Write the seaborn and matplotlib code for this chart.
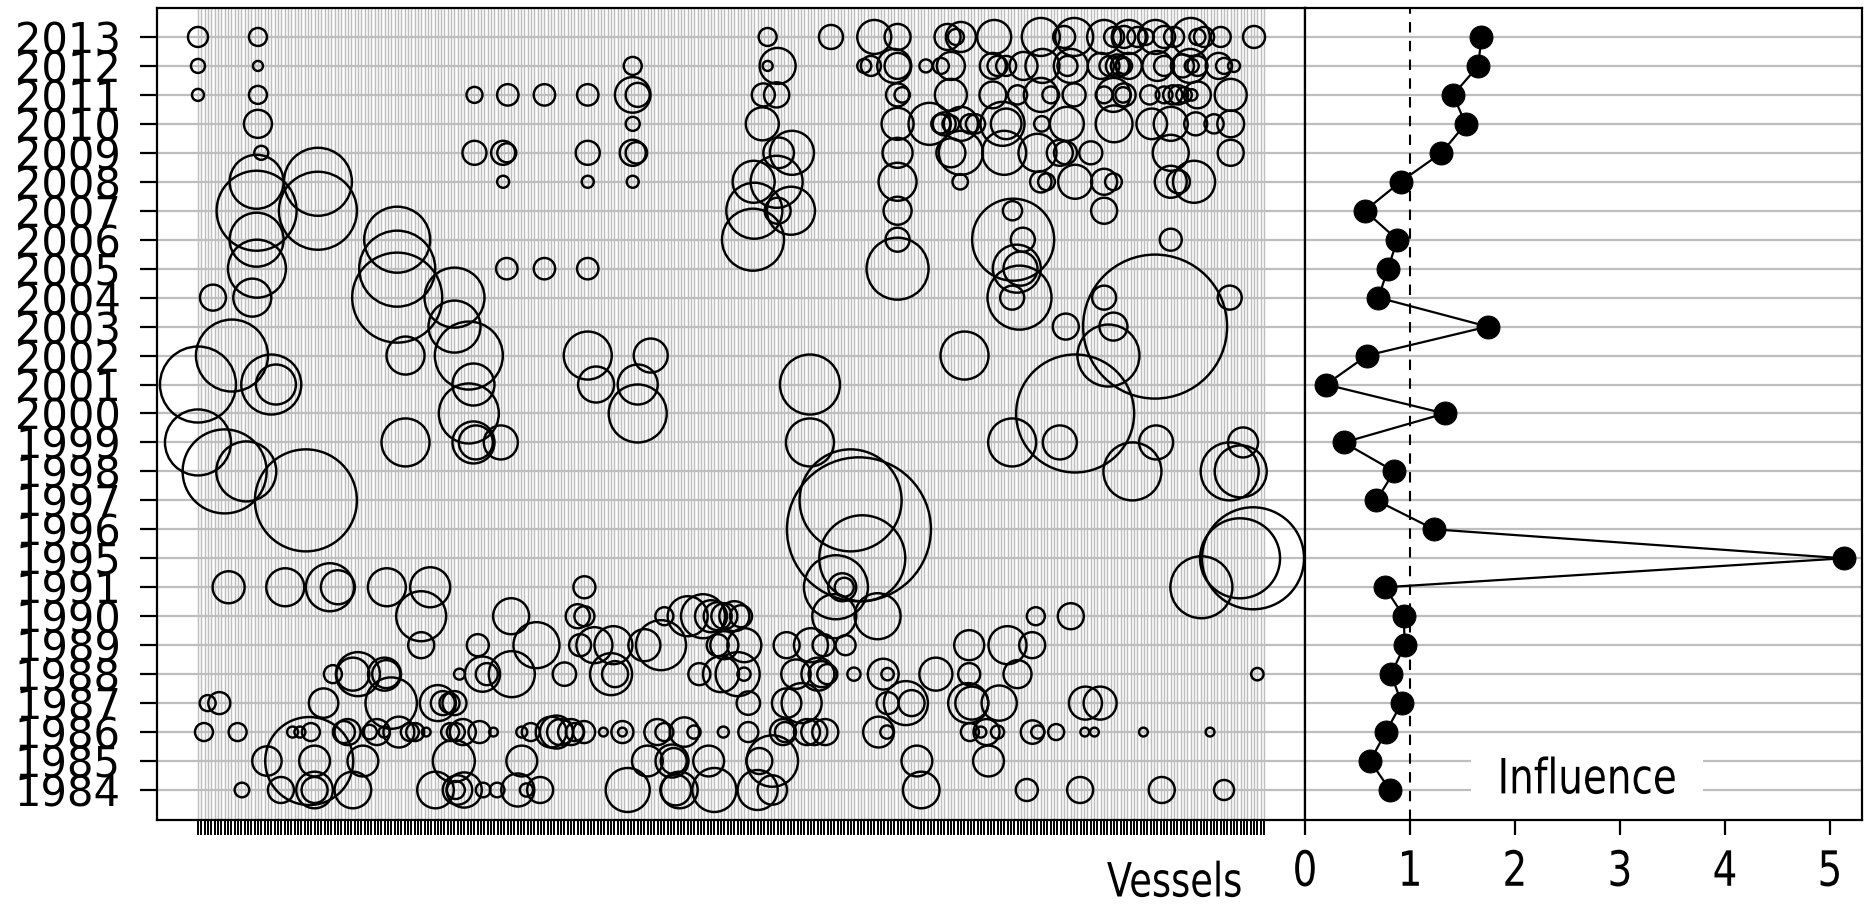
import matplotlib
matplotlib.use("Agg")
import matplotlib.pyplot as plt
import numpy as np
import pandas as pd
import seaborn as sns
from matplotlib.patheffects import AbstractPathEffect
from matplotlib.transforms import Affine2D

# ---------------- data ----------------
years = [1984, 1985, 1986, 1987, 1988, 1989, 1990, 1991,
         1995, 1996, 1997, 1998, 1999, 2000, 2001, 2002, 2003,
         2004, 2005, 2006, 2007, 2008, 2009, 2010, 2011, 2012, 2013]
influence = [0.81, 0.62, 0.77, 0.92, 0.82, 0.95, 0.94, 0.76,
             5.13, 1.23, 0.68, 0.85, 0.37, 1.33, 0.20, 0.59, 1.74,
             0.70, 0.79, 0.88, 0.57, 0.91, 1.30, 1.53, 1.41, 1.65, 1.68]
influence_ticks = [0, 1, 2, 3, 4, 5]
n_vessels = 321

# bubbles: vessel number and coefficient magnitude (bubble radius units) per year
vessel_2013 = [1, 19, 172, 191, 204, 211, 226, 228.5, 230, 240, 254, 261, 264, 273, 276, 279, 280.4,
               283, 285.5, 288.4, 291, 294, 299, 301, 303, 308, 318]
coef_2013 = [10, 9, 9, 12, 17, 13, 13, 8, 15, 17, 19, 11, 19, 17, 10, 11, 17,
             10, 8, 17, 11, 10, 19, 8, 10, 10, 11]
vessel_2012 = [1, 19, 131.5, 172, 175, 201, 203, 210, 211, 219.5, 224, 227, 239.6, 241, 243.6, 248.8,
               254.5, 262, 263, 272, 274.6, 277, 278, 279, 280.4, 289, 291, 296.5, 298.8, 299.3, 301,
               307.4, 309, 312]
coef_2012 = [7, 5, 9, 5, 18, 7, 10, 17, 13, 6.5, 8, 14, 13, 10, 10, 14,
             17, 10, 17, 13, 10, 11.5, 10, 8, 13, 15, 10, 11.5, 17, 7, 10,
             13, 8, 6]
vessel_2011 = [1, 19, 84, 94, 105, 118, 131.5, 133, 170.7, 174.7, 211, 212.4, 227, 239.6, 247, 254,
               257, 264, 273, 275.8, 278.7, 279, 286.7, 291, 293.6, 295.3, 297, 299.3, 301, 311]
coef_2011 = [6, 9, 8, 10.7, 10.7, 10.7, 17.8, 12, 11.5, 12.6, 11.5, 7.7, 16, 13.4, 9.6, 17,
             8.4, 11.5, 8.4, 17, 7.7, 11.5, 9.6, 8.4, 9.6, 9.6, 7.7, 5.7, 13.4, 16]
vessel_2010 = [19, 131.5, 170.4, 211, 220.6, 224, 225, 227, 230, 232.7, 234.4, 242.5, 243.6, 254.3,
               261.8, 276, 287.3, 293, 300.5, 306, 311]
coef_2010 = [14, 7, 16.5, 16, 21, 9.6, 11.5, 8.4, 17, 9.6, 9.6, 22, 15.3, 7.7,
             17, 18.4, 15.3, 17, 11.5, 9.6, 13.4]
vessel_2009 = [20, 84, 92.6, 93.7, 118, 131.5, 132.6, 175.3, 179.3, 211, 227, 230, 243, 253, 259.7,
               261.4, 269, 293, 311]
coef_2009 = [7, 12, 12, 9.5, 12, 13, 10.7, 15.3, 22, 15, 14.5, 22, 22, 19, 13,
             11.5, 11.5, 18, 13]
vessel_2008 = [18.6, 37, 92.6, 118, 131.5, 167.8, 174.7, 211, 229.8, 254, 255.7, 264.3, 273, 275.8,
               293, 295.3, 300]
coef_2008 = [27, 34, 6, 6, 6, 21, 26, 19, 7.7, 10.7, 8.4, 17, 13, 8.4,
             16, 11.5, 21]
vessel_2007 = [18.6, 37, 168, 175, 179, 211, 245.5, 273]
coef_2007 = [40, 39, 28, 13, 24, 14, 9.6, 13]
vessel_2006 = [18.6, 60.8, 167.6, 211, 245.7, 248.6, 293]
coef_2006 = [27, 33, 31, 12, 41, 12, 11]
vessel_2005 = [18.7, 60.8, 93.7, 105, 118, 211, 246.8, 247.9]
coef_2005 = [29, 38, 10.7, 10.7, 10.7, 31, 24, 17]
vessel_2004 = [5.5, 17.3, 60.8, 78, 245.4, 247.6, 273, 310.7]
coef_2004 = [13, 19, 45, 30, 12, 32, 12, 12]
vessel_2003 = [78, 261.5, 275.8, 288.3]
coef_2003 = [26, 13, 14, 72]
vessel_2002 = [11.2, 63.3, 82.3, 118, 136.9, 231.1, 274.3]
coef_2002 = [36, 19, 34, 24, 17, 24, 31]
vessel_2001 = [1, 23, 24.4, 83.7, 120.5, 133, 184.7]
coef_2001 = [38, 30, 20, 21, 18, 20, 30]
vessel_2000 = [82.3, 133, 264.3]
coef_2000 = [30, 29, 59]
vessel_1999 = [1, 63.3, 83.7, 84.4, 91.9, 184.7, 245.4, 259.7, 288.6, 314.7]
coef_1999 = [33, 24, 21, 17, 17, 24, 24, 17, 17, 15]
vessel_1998 = [9, 15.5, 281.5, 310.7, 314]
coef_1998 = [42, 30, 29, 29, 26]
vessel_1997 = [33.4, 196.9]
coef_1997 = [51, 51]
vessel_1996 = [199.4]
coef_1996 = [72]
vessel_1995 = [200.4, 313.8, 317.7]
coef_1995 = [43, 40, 51]
vessel_1991 = [10.2, 27.2, 40.6, 43, 57.7, 70.7, 117, 192.5, 194.4, 195, 302.2]
coef_1991 = [16, 19, 24, 17, 19, 20, 11, 32, 14, 9.5, 31]
vessel_1990 = [68, 95, 115, 117, 141, 148, 152.6, 155, 157, 159, 162, 164, 192, 205, 252.5, 263]
coef_1990 = [25, 18, 12, 10, 9, 20, 22, 16, 14, 13, 15, 11, 22, 23, 9, 13]
vessel_1989 = [68, 85, 102.6, 115.7, 120, 125.7, 135, 140, 157, 159, 165, 177.7, 185, 188.8, 195.4,
               232.5, 244, 251.4]
coef_1989 = [13, 11, 23, 11, 18, 19, 16, 25, 11, 14, 17, 13, 17, 11, 10,
             15, 19, 13]
vessel_1988 = [41.5, 47.5, 49, 57, 57.5, 79.5, 86.4, 87.7, 95.2, 111, 125, 126.2, 151.5, 158, 163,
               164.9, 180.5, 187.1, 188.2, 189.9, 197.9, 206.7, 208, 222.5, 232.5, 247, 319]
coef_1988 = [9, 16.5, 22, 16.5, 14, 5.5, 17.6, 11, 23, 11.7, 21, 13, 11, 18, 22,
             6.6, 14.7, 16.5, 13, 10, 6.6, 15.4, 6.2, 16.5, 11, 14, 6.2]
vessel_1987 = [3.9, 7.4, 38.7, 59, 73, 74.5, 76.5, 78, 166.2, 177.7, 182.2, 208, 213.5, 215.2,
               232.2, 233.3, 241.5, 267.4, 271.8]
coef_1987 = [8, 11, 14.7, 25.7, 18, 12, 10, 12, 11.7, 14.7, 20, 11, 22, 13,
             20, 16.5, 17.6, 16.5, 16.5]
vessel_1986 = [2.8, 12.9, 29.4, 31.6, 34.9, 44.8, 45.9, 52.5, 54.7, 56.9, 61.3, 64.6, 66.2, 69.5,
               76.7, 78.4, 80.5, 85.5, 89.7, 98.2, 100.9, 107, 108.6, 109.7, 113, 114.1, 116.9,
               122.7, 128.4, 128.4, 138.9, 141, 147, 149.9, 158.7, 166.2, 176.6, 177.2, 183.8,
               186, 189.3, 205.3, 207.8, 232.7, 236, 237.7, 241, 251.5, 253.1, 258.6, 267.2,
               270.1, 284.8, 304.8]
coef_1986 = [9, 9, 5.5, 5.5, 9, 11, 13, 7.3, 13, 5.5, 15.4, 9, 9, 4.4,
             9, 9, 13, 11, 4.4, 5.5, 9, 15.4, 16.5, 13, 13, 9, 11,
             4.4, 11, 4.4, 13, 9, 14.7, 6.6, 5.5, 10, 13, 10, 13,
             13, 13, 15.4, 6.6, 9, 5.5, 13, 6.6, 11.7, 6.6, 8, 4.4,
             4.4, 4.4, 4.4]
vessel_1985 = [21.7, 34.4, 36, 50.5, 77.8, 98.2, 135.9, 143.3, 143.8, 154.3, 169.5, 173.4, 216.8, 238.3]
coef_1985 = [14.7, 44, 15.4, 15.4, 21, 15.4, 15.4, 16.5, 13, 15.4, 13, 25.7, 15.4, 15.4]
vessel_1984 = [14.2, 25.9, 36, 36, 47.5, 72.3, 78.4, 78.9, 80.9, 86.6, 90.8, 97, 99.6, 103.7, 130,
               144.4, 145.5, 156, 169, 173.4, 218.1, 249.8, 265.8, 290.3, 309]
coef_1984 = [7.3, 13, 18.3, 13, 18.3, 18.3, 9, 14.7, 17.6, 7.3, 7.3, 16.5, 6.6, 13, 22,
             15.4, 18.3, 22, 20, 14.7, 18.3, 11, 13, 13, 10]

bubble_table = [
    (1984, vessel_1984, coef_1984), (1985, vessel_1985, coef_1985), (1986, vessel_1986, coef_1986),
    (1987, vessel_1987, coef_1987), (1988, vessel_1988, coef_1988), (1989, vessel_1989, coef_1989),
    (1990, vessel_1990, coef_1990), (1991, vessel_1991, coef_1991), (1995, vessel_1995, coef_1995),
    (1996, vessel_1996, coef_1996), (1997, vessel_1997, coef_1997), (1998, vessel_1998, coef_1998),
    (1999, vessel_1999, coef_1999), (2000, vessel_2000, coef_2000), (2001, vessel_2001, coef_2001),
    (2002, vessel_2002, coef_2002), (2003, vessel_2003, coef_2003), (2004, vessel_2004, coef_2004),
    (2005, vessel_2005, coef_2005), (2006, vessel_2006, coef_2006), (2007, vessel_2007, coef_2007),
    (2008, vessel_2008, coef_2008), (2009, vessel_2009, coef_2009), (2010, vessel_2010, coef_2010),
    (2011, vessel_2011, coef_2011), (2012, vessel_2012, coef_2012), (2013, vessel_2013, coef_2013),
]


# ---------------- helpers ----------------
class Condense(AbstractPathEffect):
    """Draw text horizontally condensed around its centre."""
    def __init__(self, sx=0.8):
        super().__init__()
        self.sx = sx

    def draw_path(self, renderer, gc, tpath, affine, rgbFace=None):
        ext = tpath.get_extents()
        cx = 0.5 * (ext.x0 + ext.x1)
        tr = Affine2D().translate(-cx, 0).scale(self.sx, 1.0).translate(cx, 0) + affine
        renderer.draw_path(gc, tpath, tr, rgbFace)


year_pos = {y: i for i, y in enumerate(years)}
rows = []
for yr, vs, cs in bubble_table:
    for v, c in zip(vs, cs):
        rows.append({"year": yr, "ypos": year_pos[yr], "vessel": v, "coef": c})
bubbles = pd.DataFrame(rows)
# marker area (points^2): diameter proportional to coefficient
bubbles["area"] = (2 * bubbles["coef"] * 0.72) ** 2
infl = pd.DataFrame({"year": years, "ypos": [year_pos[y] for y in years], "influence": influence})

# ---------------- figure ----------------
sns.set_theme(style="ticks")
plt.rcParams["font.family"] = ["DejaVu Sans"]
W, H = 1865, 907
fig = plt.figure(figsize=(W / 100, H / 100), dpi=100, facecolor="white")
axL = fig.add_axes([157 / W, 87 / H, 1148 / W, 812 / H])
axR = fig.add_axes([1305 / W, 87 / H, 557 / W, 812 / H], sharey=axL)

grey = "#BEBEBE"
ylo, yhi = -1.036, 27.0
vessels = np.arange(1, n_vessels + 1)

# left panel grid
axL.vlines(vessels, ylo, yhi, colors=grey, linewidth=1.05, zorder=1)
for i in range(len(years)):
    axL.axhline(i, color=grey, linewidth=1.6, zorder=1.2)
    axR.axhline(i, color=grey, linewidth=1.6, zorder=1.2)

amax = bubbles["area"].max()
sns.scatterplot(data=bubbles, x="vessel", y="ypos", size="area", sizes=(0, amax),
                size_norm=(0, amax), legend=False, ax=axL, zorder=3)
coll = axL.collections[-1]
coll.set_facecolor("none")
coll.set_edgecolor("black")
coll.set_linewidth(1.75)

axL.set_xlim(-11.3, 333.3)
axL.set_ylim(ylo, yhi)
axL.set_xticks(vessels)
axL.set_xticklabels([])
axL.set_yticks(range(len(years)))
axL.set_yticklabels([str(y) for y in years], fontsize=30, color="black")
axL.tick_params(axis="x", bottom=True, length=11, width=1.4, color="black", direction="out")
axL.tick_params(axis="y", left=True, length=12, width=1.6, color="black", pad=14, direction="out")
axL.set_ylabel("")
axL.set_xlabel("Vessels", fontsize=34, color="black")
axL.xaxis.set_label_coords((1175 - 157) / 1148, (820 - 884) / 812)
axL.xaxis.label.set_va("center")
axL.xaxis.label.set_path_effects([Condense(0.78)])

# right panel
axR.axvline(1, color="black", linestyle=(0, (5, 4)), linewidth=1.5, zorder=2)
sns.lineplot(data=infl, x="influence", y="ypos", sort=False, estimator=None, color="black",
             linewidth=1.6, marker="o", markersize=16.5, markeredgecolor="black", ax=axR, zorder=4)
axR.set_xlim(0, 5.305)
axR.set_xticks(influence_ticks)
axR.set_xticklabels([str(t) for t in influence_ticks], fontsize=35, color="black")
axR.tick_params(axis="x", bottom=True, length=11, width=1.6, color="black", pad=9)
axR.tick_params(axis="y", left=False, labelleft=False)
axR.set_xlabel("")
axR.set_ylabel("")
for lab in axR.get_xticklabels():
    lab.set_path_effects([Condense(0.8)])
axR.text(0.506, 0.05, "Influence", transform=axR.transAxes, fontsize=35, ha="center",
         va="center", color="black", zorder=5,
         bbox=dict(boxstyle="square,pad=0.08", facecolor="white", edgecolor="none"),
         path_effects=[Condense(0.8)])

for ax in (axL, axR):
    for sp in ax.spines.values():
        sp.set_visible(True)
        sp.set_color("black")
        sp.set_linewidth(1.6)
        sp.set_zorder(6)

fig.savefig("out.png", dpi=100, facecolor="white")
